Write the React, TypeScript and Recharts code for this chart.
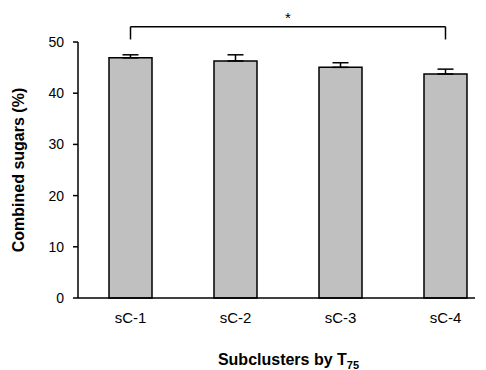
import { BarChart, Bar, XAxis, YAxis, ErrorBar, ReferenceLine } from 'recharts';

const categories = ['sC-1', 'sC-2', 'sC-3', 'sC-4'];
const sugars = [46.9, 46.3, 45.05, 43.75];
const sugarErr = [0.6, 1.2, 0.9, 0.95];
const yTicks = [0, 10, 20, 30, 40, 50];

const data = categories.map((name, i) => ({
  pos: i + 1,
  name,
  value: sugars[i],
  err: [0, sugarErr[i]],
}));

const font = 'Liberation Sans, Arial, sans-serif';

const XTitle = (props: any) => {
  const { viewBox } = props;
  const cx = viewBox.x + viewBox.width / 2 + 12;
  const y = viewBox.y + 67;
  return (
    <text x={cx} y={y} textAnchor="middle" fontFamily={font} fontSize={16} fontWeight="bold" fill="#000">
      Subclusters by T
      <tspan fontSize={11} dy={4}>75</tspan>
    </text>
  );
};

export default function App() {
  return (
    <div style={{ position: 'absolute', left: 0, top: 0, width: 486, height: 370, background: '#fff' }}>
      <BarChart width={486} height={370} data={data} margin={{ top: 42, right: 11, bottom: 0, left: 0 }}>
        <XAxis
          dataKey="pos"
          type="number"
          domain={[0.5, 4.281]}
          allowDataOverflow
          ticks={[1, 2, 3, 4]}
          tickFormatter={(v: number) => categories[v - 1]}
          tickLine={false}
          axisLine={{ stroke: '#000', strokeWidth: 1.5 }}
          tick={{ fill: '#000', fontSize: 15, fontFamily: font }}
          tickMargin={8}
          height={72}
          label={<XTitle />}
        />
        <YAxis
          domain={[0, 50]}
          ticks={yTicks}
          width={78}
          tickLine={{ stroke: '#000', strokeWidth: 1.5 }}
          tickSize={5}
          tickMargin={9}
          axisLine={{ stroke: '#000', strokeWidth: 1.5 }}
          tick={{ fill: '#000', fontSize: 14, fontFamily: font }}
          label={{
            value: 'Combined sugars (%)',
            angle: -90,
            position: 'insideLeft',
            offset: 18,
            style: { textAnchor: 'middle', fontFamily: font, fontSize: 16, fontWeight: 'bold', fill: '#000' },
          }}
        />
        <Bar dataKey="value" fill="#c0c0c0" stroke="#000" strokeWidth={1.5} barSize={43} isAnimationActive={false}>
          <ErrorBar dataKey="err" direction="y" width={8} stroke="#000" strokeWidth={1.5} />
        </Bar>
        <ReferenceLine
          segment={[{ x: 1, y: 53 }, { x: 4, y: 53 }]}
          stroke="#000"
          strokeWidth={1.5}
          ifOverflow="visible"
          label={{ value: '*', position: 'top', fill: '#000', fontSize: 15, fontFamily: font, offset: 4 }}
        />
        <ReferenceLine segment={[{ x: 1, y: 50.5 }, { x: 1, y: 53 }]} stroke="#000" strokeWidth={1.5} ifOverflow="visible" />
        <ReferenceLine segment={[{ x: 4, y: 50.5 }, { x: 4, y: 53 }]} stroke="#000" strokeWidth={1.5} ifOverflow="visible" />
      </BarChart>
    </div>
  );
}
